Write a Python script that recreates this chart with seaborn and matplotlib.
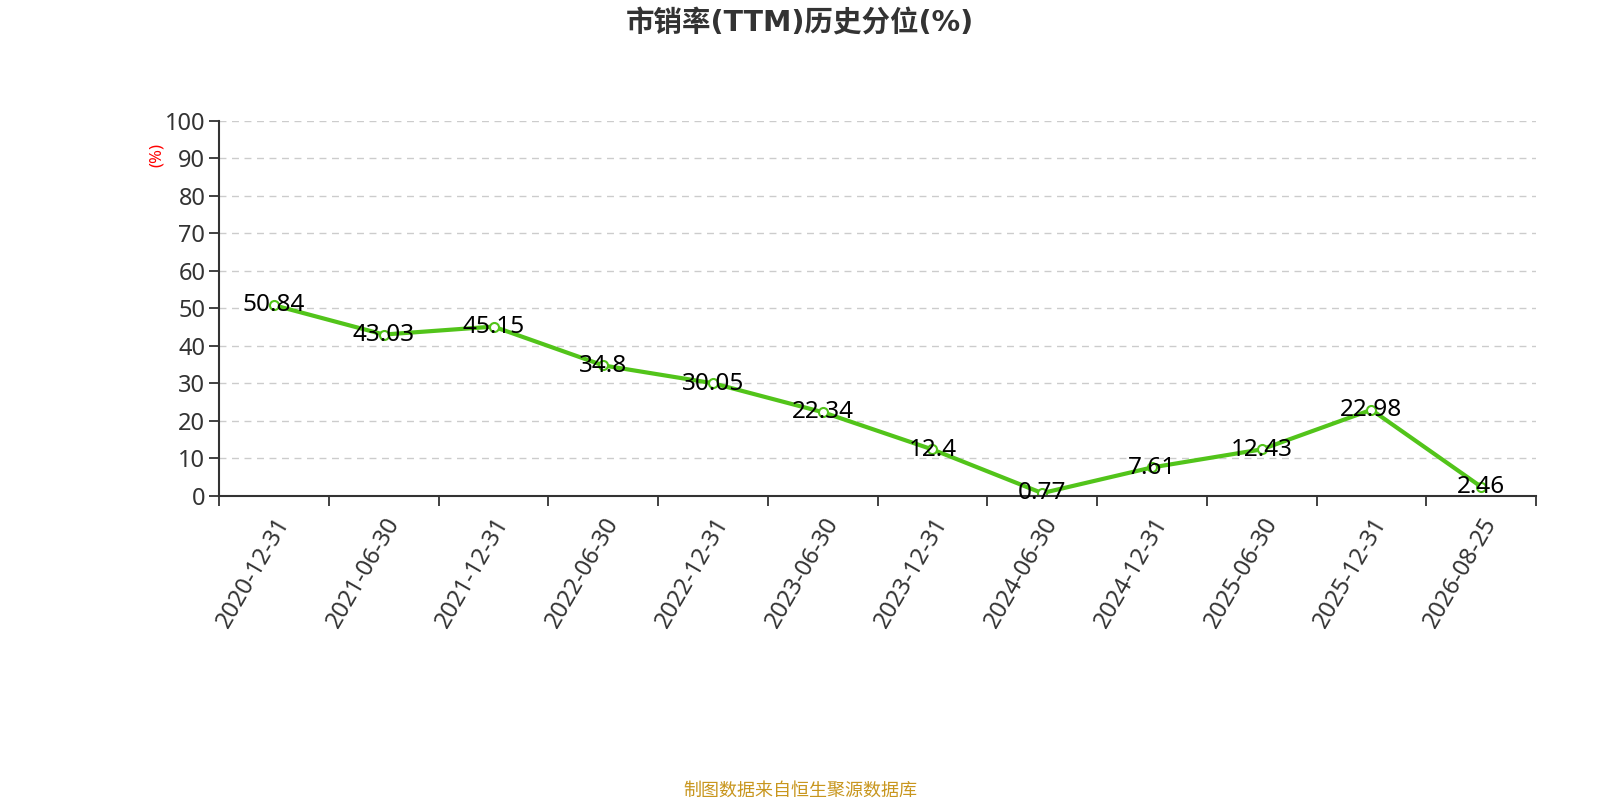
import matplotlib
matplotlib.use("Agg")
import matplotlib.pyplot as plt
import seaborn as sns
import pandas as pd
import numpy as np

# data
dates = ["2020-12-31", "2021-06-30", "2021-12-31", "2022-06-30", "2022-12-31",
         "2023-06-30", "2023-12-31", "2024-06-30", "2024-12-31", "2025-06-30",
         "2025-12-31", "2026-08-25"]
values = [50.84, 43.03, 45.15, 34.8, 30.05, 22.34, 12.4, 0.77, 7.61, 12.43, 22.98, 2.46]
value_labels = ["50.84", "43.03", "45.15", "34.8", "30.05", "22.34", "12.4", "0.77",
                "7.61", "12.43", "22.98", "2.46"]
y_ticks = [0, 10, 20, 30, 40, 50, 60, 70, 80, 90, 100]

title = "市销率(TTM)历史分位(%)"
footer = "制图数据来自恒生聚源数据库"

sns.set_theme(style="white")
plt.rcParams["font.family"] = ["Noto Sans", "Noto Sans CJK SC", "DejaVu Sans"]

df = pd.DataFrame({"date": dates, "value": values})

fig = plt.figure(figsize=(16, 8), dpi=100)
ax = fig.add_axes([0.137, 0.38, 0.823, 0.469])

green = "#52c41a"
sns.lineplot(data=df, x="date", y="value", ax=ax, color=green, linewidth=3,
             marker="o", markersize=6.5, markerfacecolor="white",
             markeredgecolor=green, markeredgewidth=1.5, sort=False)

for i, (v, lab) in enumerate(zip(values, value_labels)):
    ax.annotate(lab, (i, v), xytext=(0, -4.5), textcoords="offset points",
                ha="center", va="baseline", fontsize=17.5, color="black")

ax.set_xlim(-0.5, len(dates) - 0.5)
ax.set_ylim(0, 100)
ax.set_yticks(y_ticks)
ax.set_yticklabels([str(t) for t in y_ticks], fontsize=17, color="#333333")
ax.yaxis.grid(True, color="#cccccc", linestyle=(0, (5, 4)), linewidth=1)
ax.set_axisbelow(True)

ax.set_xticks(range(len(dates)))
ax.set_xticklabels(dates, rotation=60, ha="right", rotation_mode="anchor",
                   fontsize=17, color="#333333")
ax.set_xticks(np.arange(-0.5, len(dates), 1), minor=True)
ax.tick_params(axis="x", which="major", length=0, pad=12)
ax.tick_params(axis="x", which="minor", length=7, width=1.3, color="#333333",
               direction="out", bottom=True)
ax.tick_params(axis="y", length=7, width=1.3, color="#333333", direction="out",
               left=True, pad=3)

for s in ["top", "right"]:
    ax.spines[s].set_visible(False)
for s in ["left", "bottom"]:
    ax.spines[s].set_color("#333333")
    ax.spines[s].set_linewidth(1.5)

ax.set_xlabel("")
ax.set_ylabel("")
ax.text(-0.047, 0.91, "(%)", transform=ax.transAxes, rotation=90, color="red",
        fontsize=12, ha="center", va="center")

fig.text(0.5, 0.971, title, ha="center", va="center", fontsize=20.5,
         fontweight="bold", color="#333333",
         family=["DejaVu Sans", "Noto Sans CJK SC"])
fig.text(0.5, 0.012, footer, ha="center", va="center", fontsize=13,
         color="#c8961e", family=["Noto Sans CJK SC", "DejaVu Sans"])

fig.savefig("out.png", dpi=100)
plt.close(fig)
